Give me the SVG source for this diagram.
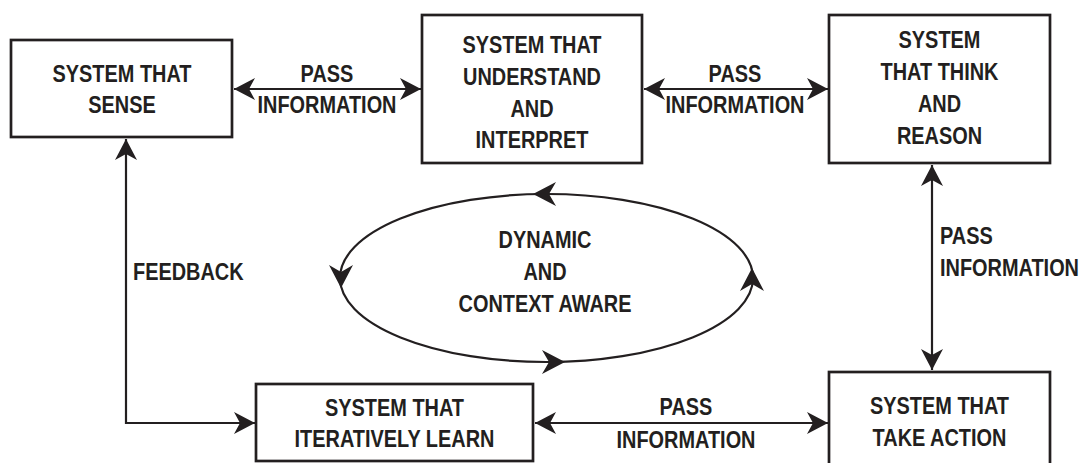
<svg xmlns="http://www.w3.org/2000/svg" width="1084" height="463" viewBox="0 0 1084 463">
<style>
.box{fill:#fff;stroke:#231f20;stroke-width:2.7}
.ln{fill:none;stroke:#231f20;stroke-width:2.2}
text{font-family:"Liberation Sans",Arial,sans-serif;font-weight:bold;font-size:24px;fill:#231f20;text-anchor:middle}
.st{text-anchor:start}
</style>
<defs>
<marker id="ah" markerUnits="userSpaceOnUse" viewBox="-22 -12 23 24" refX="0" refY="0" markerWidth="23" markerHeight="24" orient="auto-start-reverse">
<path d="M0,0 L-21,-11 L-15,0 L-21,11 Z" fill="#231f20"/>
</marker>
<path id="hd" d="M0,0 L-23,-12 L-16,0 L-23,12 Z" fill="#231f20"/>
</defs>
<rect width="1084" height="463" fill="#fff"/>
<g id="connectors">
<line class="ln" x1="234" y1="89" x2="421" y2="89" marker-start="url(#ah)" marker-end="url(#ah)"/>
<line class="ln" x1="644" y1="89" x2="828" y2="89" marker-start="url(#ah)" marker-end="url(#ah)"/>
<line class="ln" x1="932" y1="165" x2="932" y2="370" marker-start="url(#ah)" marker-end="url(#ah)"/>
<line class="ln" x1="535" y1="423" x2="828" y2="423" marker-start="url(#ah)" marker-end="url(#ah)"/>
<path class="ln" d="M255,423 H126 V139" marker-start="url(#ah)" marker-end="url(#ah)"/>
<ellipse class="ln" cx="546.5" cy="278" rx="206.5" ry="84"/>
<use href="#hd" transform="translate(533,194) rotate(180)"/>
<use href="#hd" transform="translate(341,288) rotate(90)"/>
<use href="#hd" transform="translate(565,362)"/>
<use href="#hd" transform="translate(752,268) rotate(-90)"/>
<text transform="translate(327,82) scale(0.83,1)">PASS</text>
<text transform="translate(327,113) scale(0.83,1)">INFORMATION</text>
<text transform="translate(735,82) scale(0.83,1)">PASS</text>
<text transform="translate(735,113) scale(0.83,1)">INFORMATION</text>
<text transform="translate(686,415) scale(0.83,1)">PASS</text>
<text transform="translate(686,448) scale(0.83,1)">INFORMATION</text>
<text class="st" transform="translate(940,244) scale(0.83,1)">PASS</text>
<text class="st" transform="translate(940,276) scale(0.83,1)">INFORMATION</text>
<text class="st" transform="translate(133,280) scale(0.83,1)">FEEDBACK</text>
</g>
<g id="n-sense">
<rect class="box" x="11" y="40" width="221" height="97"/>
<text transform="translate(122,82) scale(0.83,1)">SYSTEM THAT</text>
<text transform="translate(122,113) scale(0.83,1)">SENSE</text>
</g>
<g id="n-understand">
<rect class="box" x="422" y="15" width="220" height="148"/>
<text transform="translate(532,53) scale(0.83,1)">SYSTEM THAT</text>
<text transform="translate(532,85) scale(0.83,1)">UNDERSTAND</text>
<text transform="translate(532,117) scale(0.83,1)">AND</text>
<text transform="translate(532,148) scale(0.83,1)">INTERPRET</text>
</g>
<g id="n-think">
<rect class="box" x="829" y="15" width="221" height="148"/>
<text transform="translate(939.5,48) scale(0.83,1)">SYSTEM</text>
<text transform="translate(939.5,80) scale(0.83,1)">THAT THINK</text>
<text transform="translate(939.5,112) scale(0.83,1)">AND</text>
<text transform="translate(939.5,144) scale(0.83,1)">REASON</text>
</g>
<g id="n-dynamic">
<text transform="translate(545,248) scale(0.83,1)">DYNAMIC</text>
<text transform="translate(545,280) scale(0.83,1)">AND</text>
<text transform="translate(545,312) scale(0.83,1)">CONTEXT AWARE</text>
</g>
<g id="n-learn">
<rect class="box" x="256" y="384" width="277" height="77"/>
<text transform="translate(394.5,416) scale(0.83,1)">SYSTEM THAT</text>
<text transform="translate(394.5,447) scale(0.83,1)">ITERATIVELY LEARN</text>
</g>
<g id="n-action">
<rect class="box" x="829" y="372" width="221" height="100"/>
<text transform="translate(939.5,414) scale(0.83,1)">SYSTEM THAT</text>
<text transform="translate(939.5,446) scale(0.83,1)">TAKE ACTION</text>
</g>
</svg>
